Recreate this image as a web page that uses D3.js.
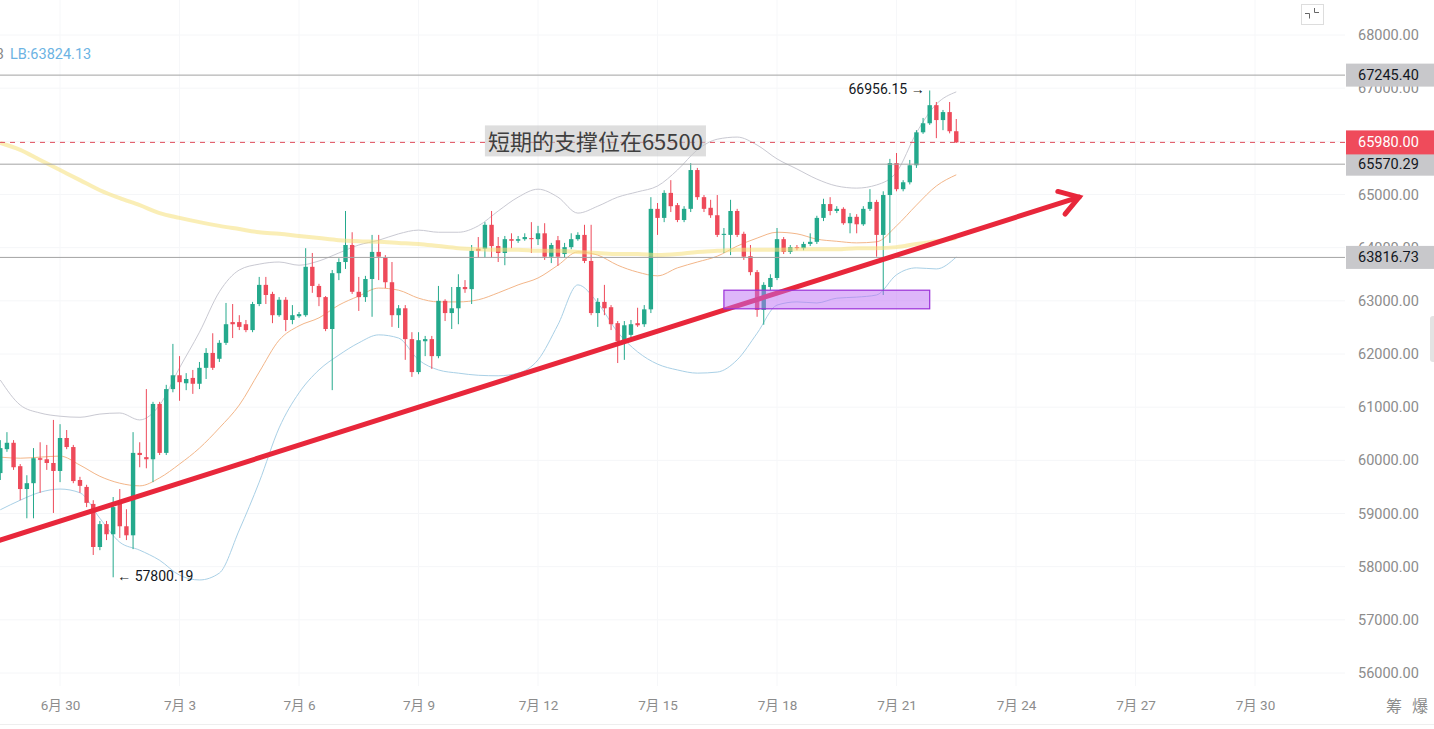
<!DOCTYPE html>
<html>
<head>
<meta charset="utf-8">
<script src="https://cdn.jsdelivr.net/npm/d3@7"></script>
<style>
  body { margin: 0; background: #fff; }
  svg { display: block; }
</style>
</head>
<body>
<div id="chart"></div>
<script>
// 4h candles, first one at 6/28 12:00, one row per day
const candleStart = new Date(2024, 5, 28, 12);

const opens = [
  59760, 60210, 60330,
  59890, 59460, 59570, 60040, 60020, 59950,
  59800, 60420, 60250, 59630, 59500, 59180,
  58370, 58800, 58610, 59200, 58760, 58590,
  60140, 60060, 60020, 61060, 60140, 61340,
  61600, 61450, 61550, 61440, 61740, 62020,
  61910, 62210, 62600, 62600, 62560, 62450,
  62940, 63300, 63130, 62730, 63020, 62640,
  62710, 62730, 63640, 63280, 63070, 62470,
  63520, 63730, 64050, 63170, 63070, 63410,
  63920, 63810, 63350, 62730, 62860, 62280,
  61660, 62240, 62280, 61960, 63000, 62770,
  62860, 63260, 63220, 63980, 63980, 64430,
  64030, 63900, 64160, 64130, 64160, 64180,
  64160, 64270, 63830, 64140, 63880, 64010,
  64160, 64240, 63750, 62770, 62980, 62880,
  62580, 62260, 62360, 62580, 62560, 62840,
  64730, 64560, 65030, 64800, 64520, 64730,
  65460, 64950, 64750, 64610, 64240, 64240,
  64690, 64260, 63840, 63540, 62830, 63260,
  63430, 64160, 63920, 64010, 63990, 64070,
  64110, 64560, 64820, 64690, 64730, 64460,
  64580, 64440, 64730, 64860, 64240, 64990,
  65590, 65100, 65230, 65550, 66170, 66340,
  66680, 66400, 66550, 66190
];
const highs = [
  60380, 60530, 60380,
  59930, 59720, 60230, 60340, 60290, 60760,
  60680, 60570, 60290, 59690, 59540, 59250,
  58860, 58860, 59310, 59460, 59080, 60530,
  60340, 61340, 61100, 61100, 61420, 62190,
  61960, 61640, 61700, 61850, 62110, 62390,
  62260, 62960, 62940, 62730, 62640, 62980,
  63450, 63450, 63170, 63070, 63070, 62920,
  62790, 63990, 63900, 63320, 63090, 63580,
  63800, 64690, 64290, 63450, 63470, 64240,
  64240, 63860, 63730, 62920, 62920, 62410,
  62410, 62340, 62340, 63280, 63030, 63260,
  63500, 63390, 64050, 64200, 64480, 64690,
  64200, 64220, 64270, 64220, 64270, 64480,
  64410, 64460, 64090, 64220, 64090, 64270,
  64290, 64430, 64430, 63050, 63300, 62920,
  62620, 62620, 62640, 62870, 62920, 64950,
  64840, 65080, 65270, 64840, 64780, 65590,
  65500, 64990, 64900, 64990, 64370, 64900,
  64730, 64300, 64050, 63580, 63350, 63500,
  64370, 64200, 64050, 64050, 64110, 64270,
  64600, 64920, 64950, 64780, 64760, 64650,
  64630, 64780, 65100, 64900, 65060, 65670,
  65780, 65270, 65650, 66210, 66440, 66956.15,
  66740, 66590, 66740, 66420
];
const lows = [
  59630, 60160, 59820,
  59250, 58910, 58910, 59390, 59820, 59010,
  59590, 60210, 59570, 59390, 59120, 58220,
  58310, 58500, 57800.19, 58540, 58500, 58330,
  59870, 59850, 59590, 60100, 60100, 61280,
  61120, 61320, 61250, 61340, 61530, 61700,
  61850, 62170, 62300, 62450, 62410, 62410,
  62900, 62940, 62580, 62700, 62430, 62560,
  62680, 62700, 63150, 62900, 62430, 61320,
  63390, 63600, 63130, 62810, 62980, 62700,
  63390, 63240, 62510, 62490, 61890, 61570,
  61620, 61960, 61720, 61920, 62620, 62470,
  62560, 63150, 62940, 63810, 63810, 63810,
  63730, 63670, 63990, 64090, 64130, 63900,
  64050, 63770, 63710, 63660, 63810, 63970,
  64130, 63710, 62730, 62510, 62730, 62450,
  61830, 61890, 62260, 62510, 62510, 62770,
  64240, 64480, 64670, 64480, 64480, 64670,
  64900, 64670, 64560, 64200, 63900, 63860,
  64200, 63770, 63480, 62700, 62550, 63200,
  63390, 63880, 63880, 63950, 63950, 64030,
  64070, 64500, 64610, 64650, 64430, 64270,
  64270, 64410, 64690, 63830, 63110, 64090,
  65060, 65060, 65190, 65500, 66140, 66310,
  66060, 66210, 66150, 65970
];
const closes = [
  60230, 60330, 59870,
  59460, 59570, 60040, 60010, 59950, 59800,
  60420, 60250, 59610, 59520, 59200, 58370,
  58800, 58610, 59120, 58760, 58590, 60140,
  60100, 60020, 61060, 60140, 61340, 61600,
  61470, 61530, 61440, 61740, 62020, 61740,
  62210, 62560, 62560, 62510, 62450, 62940,
  63300, 63110, 62730, 63020, 62640, 62730,
  62750, 63640, 63280, 63070, 62470, 63520,
  63730, 64050, 63170, 63070, 63410, 63920,
  63830, 63350, 62730, 62860, 62280, 61660,
  62260, 62280, 61960, 63000, 62770, 62860,
  63260, 63220, 63940, 63940, 64430, 64030,
  63900, 64160, 64130, 64160, 64200, 64160,
  64270, 63830, 64050, 63830, 64010, 64160,
  64240, 63750, 62770, 62980, 62860, 62560,
  62240, 62540, 62560, 62540, 62840, 64730,
  64560, 65030, 64780, 64520, 64730, 65460,
  64950, 64730, 64610, 64240, 64260, 64690,
  64240, 63830, 63540, 62830, 63300, 63430,
  64160, 63920, 64010, 63990, 64070, 64110,
  64560, 64820, 64690, 64730, 64460, 64580,
  64440, 64730, 64860, 64240, 64990, 65590,
  65100, 65230, 65550, 66170, 66340, 66680,
  66400, 66550, 66190, 65980
];

// indicator lines read every 12h from the same start
const upperBand = [61510, 61040, 60890, 60830, 60810, 60870, 60890, 60760, 61040, 61740,
  62410, 63170, 63580, 63690, 63730, 63670, 63750, 63900, 64050, 64140,
  64260, 64330, 64290, 64290, 64410, 64690, 64950, 65100, 64950, 64650,
  64780, 64950, 65050, 65160, 65460, 65840, 66040, 66080, 65930, 65670,
  65480, 65290, 65160, 65120, 65180, 65420, 66160, 66700, 66930];
const middleBand = [60060, 60040, 60060, 60080, 59910, 59700, 59570, 59520, 59670, 59930,
  60230, 60610, 61040, 61660, 62260, 62530, 62680, 62920, 63090, 63240,
  63200, 63050, 62980, 62980, 63020, 63150, 63300, 63430, 63670, 63920,
  63860, 63670, 63540, 63470, 63620, 63730, 63840, 64030, 64180, 64290,
  64260, 64160, 64120, 64090, 64110, 64410, 64800, 65160, 65370];
const lowerBand = [59070, 59250, 59400, 59460, 59390, 58910, 58460, 58310, 58120, 57840,
  57750, 57880, 58690, 59590, 60610, 61270, 61700, 61980, 62210, 62360,
  62300, 61890, 61700, 61640, 61600, 61590, 61640, 61890, 62550, 63300,
  62960, 62410, 62040, 61810, 61700, 61640, 61660, 61890, 62390, 62920,
  62980, 62960, 63050, 63070, 63110, 63490, 63620, 63600, 63824.13];
const longMA = [65970, 65840, 65650, 65460, 65270, 65080, 64930, 64800, 64650, 64560,
  64480, 64410, 64350, 64290, 64260, 64220, 64180, 64140, 64120, 64110,
  64090, 64070, 64030, 63990, 63970, 63960, 63960, 63940, 63940, 63920,
  63900, 63880, 63880, 63860, 63880, 63920, 63940, 63960, 63960, 63960,
  63970, 63970, 63970, 63990, 63990, 64010, 64070, 64120, 64180];

const priceTicks = [56000, 57000, 58000, 59000, 60000, 61000, 62000, 63000, 64000, 65000, 66000, 67000, 68000];
const dateTicks = [new Date(2024, 5, 30), new Date(2024, 6, 3), new Date(2024, 6, 6), new Date(2024, 6, 9),
  new Date(2024, 6, 12), new Date(2024, 6, 15), new Date(2024, 6, 18), new Date(2024, 6, 21),
  new Date(2024, 6, 24), new Date(2024, 6, 27), new Date(2024, 6, 30)];

const levelLines = [67245.40, 65570.29, 63816.73];
const lastPrice = 65980.00;
const highMark = 66956.15;
const lowMark = 57800.19;
const trendFrom = { t: new Date(2024, 5, 28, 12), p: 58500 };
const trendTo = { t: new Date(2024, 6, 25, 14), p: 64950 };
const zoneFrom = new Date(2024, 6, 16, 16), zoneTo = new Date(2024, 6, 21, 20);
const zoneTop = 63200, zoneBottom = 62850;
const noteText = "短期的支撑位在65500";
const noteAt = { t: new Date(2024, 6, 10, 16), p: 65980 };

const width = 1434, height = 729;
const plotW = 1345, plotH = 686;

const x = d3.scaleTime()
  .domain([candleStart, new Date(2024, 6, 30)])
  .range([0.3, 1255]);
const y = d3.scaleLinear()
  .domain([56000, 68000])
  .range([673, 35]);

const candles = opens.map((o, i) => ({
  t: d3.timeHour.offset(candleStart, i * 4),
  o: o, h: highs[i], l: lows[i], c: closes[i]
}));
const bandTime = (i) => d3.timeHour.offset(candleStart, i * 12);

const svg = d3.select("#chart").append("svg")
  .attr("width", width)
  .attr("height", height)
  .style("font-family", "Roboto, 'Noto Sans', sans-serif");

svg.append("rect").attr("width", width).attr("height", height).attr("fill", "#fff");

svg.append("clipPath").attr("id", "plot")
  .append("rect").attr("width", plotW).attr("height", plotH);

const plot = svg.append("g").attr("clip-path", "url(#plot)");

// grid
plot.selectAll(".hgrid").data(priceTicks).enter().append("line")
  .attr("x1", 0).attr("x2", plotW)
  .attr("y1", d => y(d)).attr("y2", d => y(d))
  .attr("stroke", "#f5f6f8");
plot.selectAll(".vgrid").data(dateTicks).enter().append("line")
  .attr("x1", d => x(d)).attr("x2", d => x(d))
  .attr("y1", 0).attr("y2", plotH)
  .attr("stroke", "#f6f7f9");

// bollinger bands
const bandLine = d3.line()
  .x((d, i) => x(bandTime(i)))
  .y(d => y(d))
  .curve(d3.curveMonotoneX);

plot.append("path").datum(upperBand).attr("d", bandLine)
  .attr("fill", "none").attr("stroke", "#c9c9d2").attr("stroke-width", 1);
plot.append("path").datum(middleBand).attr("d", bandLine)
  .attr("fill", "none").attr("stroke", "#f3b689").attr("stroke-width", 1);
plot.append("path").datum(lowerBand).attr("d", bandLine)
  .attr("fill", "none").attr("stroke", "#a9d0e6").attr("stroke-width", 1);

// candles
const up = "#24a98c", down = "#ee4a5a";
const bodyW = 4.4;
const cg = plot.append("g");
cg.selectAll(".wick").data(candles).enter().append("line")
  .attr("x1", d => x(d.t)).attr("x2", d => x(d.t))
  .attr("y1", d => y(d.h)).attr("y2", d => y(d.l))
  .attr("stroke", d => d.c >= d.o ? up : down)
  .attr("stroke-width", 1);
cg.selectAll(".body").data(candles).enter().append("rect")
  .attr("x", d => x(d.t) - bodyW / 2)
  .attr("width", bodyW)
  .attr("y", d => y(Math.max(d.o, d.c)))
  .attr("height", d => Math.max(1, Math.abs(y(d.o) - y(d.c))))
  .attr("fill", d => d.c >= d.o ? up : down);

// long moving average, translucent over candles
plot.append("path").datum(longMA).attr("d", bandLine)
  .attr("fill", "none").attr("stroke", "#f5e07a").attr("stroke-width", 4)
  .attr("stroke-opacity", 0.55);

// horizontal levels
plot.selectAll(".level").data(levelLines).enter().append("line")
  .attr("x1", 0).attr("x2", plotW)
  .attr("y1", d => y(d)).attr("y2", d => y(d))
  .attr("stroke", "#a3a3a3").attr("stroke-width", 1);
plot.append("line")
  .attr("x1", 0).attr("x2", plotW)
  .attr("y1", y(lastPrice)).attr("y2", y(lastPrice))
  .attr("stroke", "#e0505e").attr("stroke-width", 1)
  .attr("stroke-dasharray", "5,5");

// trend line with open arrow head
const tx1 = x(trendFrom.t), ty1 = y(trendFrom.p);
const tx2 = x(trendTo.t), ty2 = y(trendTo.p);
const ang = Math.atan2(ty2 - ty1, tx2 - tx1);
const armLen = 22, spread = Math.PI / 5.5;
plot.append("line")
  .attr("x1", tx1).attr("y1", ty1).attr("x2", tx2).attr("y2", ty2)
  .attr("stroke", "#e8273b").attr("stroke-width", 5).attr("stroke-linecap", "round");
plot.append("path")
  .attr("d", d3.line()([
    [tx2 - armLen * Math.cos(ang - spread), ty2 - armLen * Math.sin(ang - spread)],
    [tx2, ty2],
    [tx2 - armLen * Math.cos(ang + spread), ty2 - armLen * Math.sin(ang + spread)]
  ]))
  .attr("fill", "none").attr("stroke", "#e8273b").attr("stroke-width", 5)
  .attr("stroke-linejoin", "miter").attr("stroke-linecap", "round");

// support zone
plot.append("rect")
  .attr("x", x(zoneFrom)).attr("width", x(zoneTo) - x(zoneFrom))
  .attr("y", y(zoneTop)).attr("height", y(zoneBottom) - y(zoneTop))
  .attr("fill", "rgb(190,110,245)").attr("fill-opacity", 0.5)
  .attr("stroke", "#9a2fd8").attr("stroke-width", 1.2);

// note
const note = plot.append("g");
const noteLabel = note.append("text")
  .attr("x", x(noteAt.t) + 3).attr("y", y(noteAt.p) + 8)
  .attr("font-family", "'Noto Sans CJK SC', 'Noto Sans', sans-serif")
  .attr("font-size", 22).attr("fill", "#3f3f3f")
  .text(noteText);
const nb = noteLabel.node().getBBox();
note.insert("rect", "text")
  .attr("x", nb.x - 3).attr("y", nb.y + 1)
  .attr("width", nb.width + 6).attr("height", nb.height - 1)
  .attr("fill", "rgb(200,200,200)").attr("fill-opacity", 0.6);

// high / low marks
const hiCandle = candles.find(d => d.h === highMark);
const loCandle = candles.find(d => d.l === lowMark);
plot.append("text")
  .attr("x", x(hiCandle.t) - 5).attr("y", y(highMark) + 4)
  .attr("text-anchor", "end").attr("font-size", 14).attr("fill", "#131722")
  .text(d3.format(".2f")(highMark) + " →");
plot.append("text")
  .attr("x", x(loCandle.t) + 4).attr("y", y(lowMark) + 4)
  .attr("font-size", 14).attr("fill", "#131722")
  .text("← " + d3.format(".2f")(lowMark));

// legend fragment
plot.append("text").attr("x", 4).attr("y", 59).attr("text-anchor", "end")
  .attr("font-size", 14.5).attr("fill", "#888").text("66930.83");
plot.append("text").attr("x", 10).attr("y", 59)
  .attr("font-size", 14.5).attr("fill", "#6cb3e3")
  .text("LB:" + d3.format(".2f")(lowerBand[lowerBand.length - 1]));

// price axis
const yAxis = d3.axisRight(y).tickValues(priceTicks)
  .tickFormat(d3.format(".2f")).tickSize(0).tickPadding(13);
const ya = svg.append("g").attr("transform", `translate(${plotW},0)`).call(yAxis);
ya.select(".domain").remove();
ya.selectAll("text").attr("font-size", 14.5).attr("fill", "#8c8c8c")
  .attr("font-family", "Roboto, sans-serif");

svg.selectAll(".lvlbox").data(levelLines).enter().append("rect")
  .attr("x", plotW + 1).attr("width", width - plotW - 1)
  .attr("y", d => y(d) - 11.5).attr("height", 23)
  .attr("fill", "#c8c8cb");
svg.selectAll(".lvltxt").data(levelLines).enter().append("text")
  .attr("x", plotW + 13).attr("y", d => y(d)).attr("dy", "0.35em")
  .attr("font-size", 14.5).attr("fill", "#131722")
  .text(d => d3.format(".2f")(d));
svg.append("rect")
  .attr("x", plotW + 1).attr("width", width - plotW - 1)
  .attr("y", y(lastPrice) - 12).attr("height", 24)
  .attr("fill", "#ef4b5b");
svg.append("text")
  .attr("x", plotW + 13).attr("y", y(lastPrice)).attr("dy", "0.35em")
  .attr("font-size", 14.5).attr("fill", "#fff")
  .text(d3.format(".2f")(lastPrice));

// time axis
const xAxis = d3.axisBottom(x).tickValues(dateTicks)
  .tickFormat(d3.timeFormat("%-m月 %-d")).tickSize(0).tickPadding(14);
const xa = svg.append("g").attr("transform", `translate(0,${plotH})`).call(xAxis);
xa.select(".domain").remove();
xa.selectAll("text").attr("font-size", 13.5).attr("fill", "#8c8c8c")
  .attr("font-family", "Roboto, 'Noto Sans CJK SC', sans-serif");

svg.append("line").attr("x1", 0).attr("x2", width)
  .attr("y1", 724.5).attr("y2", 724.5).attr("stroke", "#eeeeee");

svg.append("text").attr("x", 1386).attr("y", 712)
  .attr("font-family", "'Noto Sans CJK SC', sans-serif")
  .attr("font-size", 16).attr("fill", "#8c8c8c").text("筹");
svg.append("text").attr("x", 1412).attr("y", 712)
  .attr("font-family", "'Noto Sans CJK SC', sans-serif")
  .attr("font-size", 16).attr("fill", "#8c8c8c").text("爆");

// corner button and scroll handle
svg.append("rect").attr("x", 1301.5).attr("y", 4.5).attr("width", 22).attr("height", 20)
  .attr("fill", "#fff").attr("stroke", "#dddddd");
svg.append("path").attr("d", "M1305,13.5h4.5v5 M1314.5,8v4.5h4.5")
  .attr("fill", "none").attr("stroke", "#666").attr("stroke-width", 1);
svg.append("rect").attr("x", 1430).attr("y", 316).attr("width", 6).attr("height", 46)
  .attr("rx", 3).attr("fill", "#e3e3e3");
</script>
</body>
</html>
